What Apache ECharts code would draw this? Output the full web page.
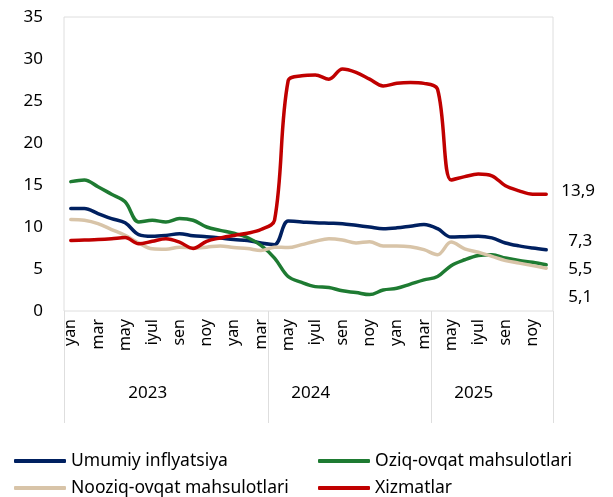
<!DOCTYPE html>
<html lang="uz">
<head>
<meta charset="utf-8">
<title>Inflyatsiya</title>
<script src="https://cdn.jsdelivr.net/npm/echarts@6/dist/echarts.min.js"></script>
<style>
html,body{margin:0;padding:0;background:#fff;}
#main{width:613px;height:497px;}
</style>
</head>
<body>
<div id="main"></div>
<script>
// oylar (yan 2023 - dek 2025)
var months = ['yan','fev','mar','apr','may','iyun','iyul','avg','sen','okt','noy','dek',
              'yan','fev','mar','apr','may','iyun','iyul','avg','sen','okt','noy','dek',
              'yan','fev','mar','apr','may','iyun','iyul','avg','sen','okt','noy','dek'];
var yearLabels = ['', '', '', '', '', '', '2023', '', '', '', '', '',
                  '', '', '', '', '', '', '2024', '', '', '', '', '',
                  '', '', '', '', '', '', '2025', '', '', '', '', ''];
var groupStarts = [0, 15, 27];

var umumiy = [12.2, 12.2, 11.6, 11.0, 10.5, 9.1, 8.9, 9.0, 9.2, 8.95, 8.85, 8.7,
              8.5, 8.4, 8.1, 7.9, 10.7, 10.6, 10.5, 10.45, 10.4, 10.2, 10.0, 9.8,
              9.9, 10.1, 10.3, 9.8, 8.8, 8.85, 8.9, 8.7, 8.1, 7.75, 7.5, 7.3];
var oziq = [15.4, 15.6, 14.8, 13.9, 13.0, 10.6, 10.8, 10.6, 11.0, 10.8, 10.0, 9.6,
            9.25, 8.75, 7.8, 6.3, 4.1, 3.4, 2.9, 2.8, 2.4, 2.2, 1.95, 2.5,
            2.7, 3.2, 3.7, 4.1, 5.4, 6.1, 6.6, 6.7, 6.3, 6.0, 5.8, 5.5];
var nooziq = [10.9, 10.8, 10.4, 9.7, 9.0, 8.1, 7.4, 7.35, 7.6, 7.5, 7.6, 7.75,
              7.55, 7.45, 7.2, 7.6, 7.55, 7.9, 8.3, 8.6, 8.45, 8.1, 8.25, 7.75,
              7.75, 7.65, 7.3, 6.7, 8.2, 7.4, 7.0, 6.5, 6.0, 5.7, 5.4, 5.1];
var xizmat = [8.4, 8.45, 8.5, 8.6, 8.75, 8.0, 8.3, 8.6, 8.2, 7.45, 8.3, 8.7,
              9.0, 9.25, 9.7, 10.8, 27.4, 28.0, 28.1, 27.6, 28.8, 28.4, 27.6, 26.8,
              27.1, 27.2, 27.1, 26.4, 15.6, 16.0, 16.3, 16.1, 14.9, 14.3, 13.9, 13.9];

var font = 'Noto Sans';
var chart = echarts.init(document.getElementById('main'));

function lineSeries(name, data, color, offset) {
  return {
    name: name, type: 'line', data: data, smooth: 0.35, showSymbol: false,
    lineStyle: {color: color, width: 3.5, cap: 'round'},
    itemStyle: {color: color},
    endLabel: {
      show: true, distance: 0, offset: offset, color: '#000',
      fontFamily: font, fontSize: 17,
      formatter: function (p) { return String(p.value).replace('.', ','); }
    }
  };
}

function legendCol(left, names) {
  return {
    orient: 'vertical', left: left, top: 452, height: 60, padding: 0,
    itemGap: 9, itemWidth: 52, itemHeight: 4, icon: 'roundRect',
    textStyle: {fontFamily: font, fontSize: 17.5, color: '#000'},
    data: names
  };
}

chart.setOption({
  animation: false,
  textStyle: {fontFamily: font},
  grid: {left: 64, right: 60, top: 17, bottom: 186, show: true, borderColor: '#dedede', borderWidth: 1},
  legend: [
    legendCol(14, ['Umumiy inflyatsiya', 'Nooziq-ovqat mahsulotlari']),
    legendCol(318, ['Oziq-ovqat mahsulotlari', 'Xizmatlar'])
  ],
  xAxis: [{
    type: 'category', data: months, boundaryGap: true,
    axisLine: {show: false},
    axisTick: {
      show: true, length: 112, lineStyle: {color: '#dedede'},
      interval: function (i) { return groupStarts.indexOf(i) >= 0; }
    },
    axisLabel: {
      rotate: 90, fontSize: 16, color: '#000', margin: 8,
      interval: function (i) { return i % 2 === 0; }
    }
  }, {
    type: 'category', data: yearLabels, position: 'bottom', offset: 66,
    axisLine: {show: false}, axisTick: {show: false},
    axisLabel: {interval: 0, fontSize: 17, color: '#000', padding: [0, 9, 0, 0]}
  }],
  yAxis: {
    type: 'value', min: 0, max: 35, interval: 5,
    axisLine: {show: false}, axisTick: {show: false}, splitLine: {show: false},
    axisLabel: {fontSize: 17, color: '#000', margin: 21}
  },
  series: [
    lineSeries('Umumiy inflyatsiya', umumiy, '#002060', [22, -9]),
    lineSeries('Oziq-ovqat mahsulotlari', oziq, '#1e7b32', [22, 4]),
    lineSeries('Nooziq-ovqat mahsulotlari', nooziq, '#d8c4a8', [22, 29]),
    lineSeries('Xizmatlar', xizmat, '#c00000', [15, -3])
  ]
});
</script>
</body>
</html>
